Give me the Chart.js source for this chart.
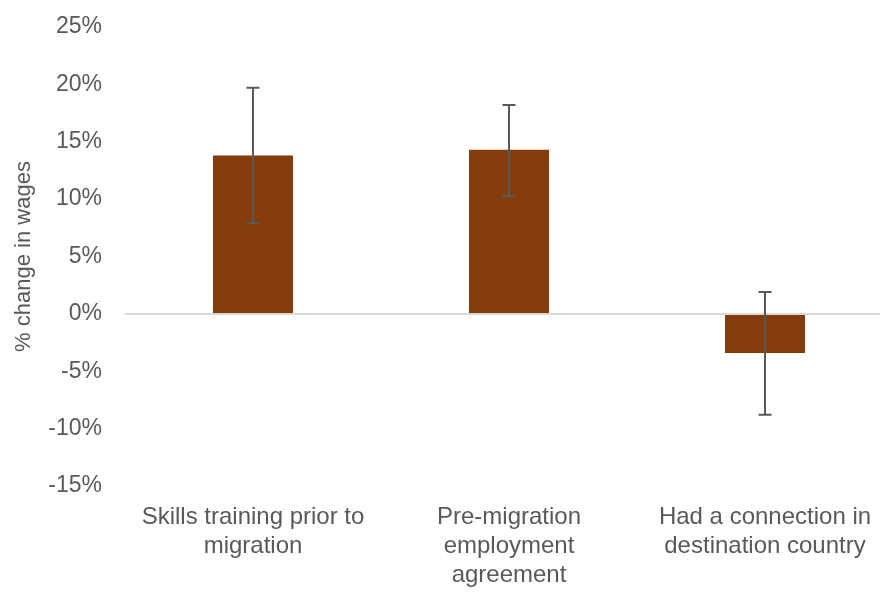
<!DOCTYPE html>
<html>
<head>
<meta charset="utf-8">
<script src="https://cdn.jsdelivr.net/npm/chart.js@4/dist/chart.umd.min.js"></script>
<style>
  html, body { margin: 0; padding: 0; background: #ffffff; overflow: hidden; }
  #wrap { position: relative; width: 900px; height: 592px; }
</style>
</head>
<body>
<div id="wrap"><canvas id="c"></canvas></div>
<script>
const categories = [
  ["Skills training prior to", "migration"],
  ["Pre-migration", "employment", "agreement"],
  ["Had a connection in", "destination country"]
];
const values = [13.8, 14.3, -3.4];
const errLow = [7.9, 10.3, -8.8];
const errHigh = [19.7, 18.2, 1.9];
const yMin = -15, yMax = 25, yStep = 5;
const yTitle = "% change in wages";

const errorBars = {
  id: 'errorBars',
  afterDatasetsDraw(chart) {
    const ctx = chart.ctx;
    const meta = chart.getDatasetMeta(0);
    const y = chart.scales.y;
    ctx.save();
    ctx.strokeStyle = '#595959';
    ctx.lineWidth = 2;
    meta.data.forEach((bar, i) => {
      const x = Math.round(bar.x);
      const yt = y.getPixelForValue(errHigh[i]);
      const yb = y.getPixelForValue(errLow[i]);
      ctx.beginPath();
      ctx.moveTo(x, yt); ctx.lineTo(x, yb);
      ctx.moveTo(x - 6.5, yt); ctx.lineTo(x + 6.5, yt);
      ctx.moveTo(x - 6.5, yb); ctx.lineTo(x + 6.5, yb);
      ctx.stroke();
    });
    ctx.restore();
  }
};

new Chart(document.getElementById('c'), {
  type: 'bar',
  data: {
    labels: categories,
    datasets: [{
      data: values,
      backgroundColor: '#843C0C',
      borderWidth: 0,
      categoryPercentage: 1,
      barPercentage: 0.3125
    }]
  },
  options: {
    responsive: true,
    maintainAspectRatio: false,
    animation: false,
    layout: { padding: { top: 27, right: 7, bottom: 0, left: 0 } },
    plugins: { legend: { display: false }, tooltip: { enabled: false } },
    scales: {
      x: {
        grid: { display: false, drawTicks: false },
        border: { display: false },
        ticks: {
          color: '#595959',
          padding: 17,
          maxRotation: 0,
          autoSkip: false,
          font: { family: "'Liberation Sans', Arial, sans-serif", size: 24, lineHeight: '29px' }
        },
        afterFit(scale) { scale.height = 106; }
      },
      y: {
        min: yMin, max: yMax,
        grid: {
          drawTicks: false,
          lineWidth: 2,
          color: (c) => (c.tick && c.tick.value === 0) ? '#d9d9d9' : 'rgba(0,0,0,0)'
        },
        border: { display: false },
        ticks: {
          stepSize: yStep,
          color: '#595959',
          padding: 23,
          font: { family: "'Liberation Sans', Arial, sans-serif", size: 23 },
          callback: (v) => v + '%'
        },
        title: {
          display: true,
          text: yTitle,
          color: '#595959',
          padding: { top: 11, bottom: 0 },
          font: { family: "'Liberation Sans', Arial, sans-serif", size: 22 }
        },
        afterFit(scale) {
          scale.width = 125;
          scale.paddingTop = 0;
          scale.paddingBottom = 0;
        }
      }
    }
  },
  plugins: [errorBars]
});
</script>
</body>
</html>
